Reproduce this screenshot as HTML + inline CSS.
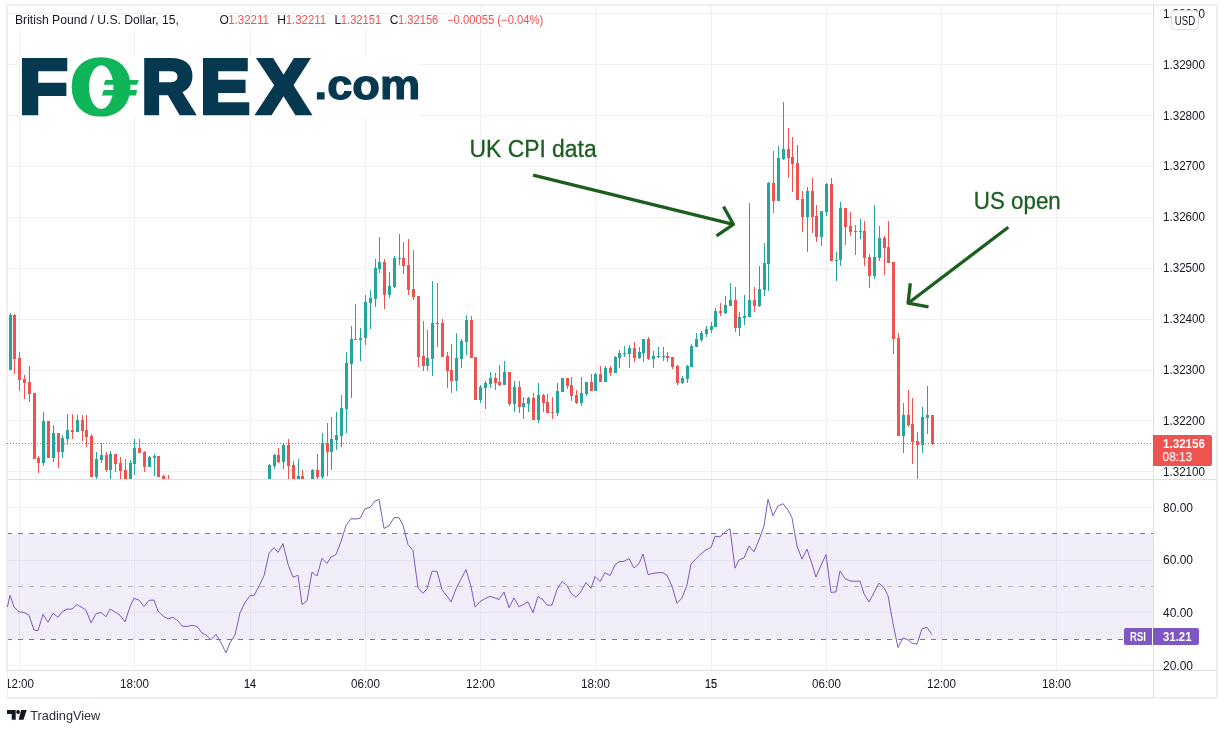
<!DOCTYPE html>
<html lang="en"><head><meta charset="utf-8"><title>GBP/USD 15 - FOREX.com</title>
<style>html,body{margin:0;padding:0;background:#fff;}body{width:1227px;height:733px;overflow:hidden;font-family:"Liberation Sans", sans-serif;}svg{display:block}</style>
</head><body>
<svg width="1227" height="733" viewBox="0 0 1227 733" font-family='"Liberation Sans", sans-serif' shape-rendering="crispEdges">
<rect x="0" y="0" width="1227" height="733" fill="#ffffff"/>
<rect x="8" y="533.7" width="1145" height="106" fill="#f1eef9" shape-rendering="geometricPrecision"/>
<g stroke="#f0f0f2" stroke-width="1">
<line x1="8" x2="1153" y1="13.5" y2="13.5"/>
<line x1="8" x2="1153" y1="64.5" y2="64.5"/>
<line x1="8" x2="1153" y1="115.5" y2="115.5"/>
<line x1="8" x2="1153" y1="166.5" y2="166.5"/>
<line x1="8" x2="1153" y1="217.5" y2="217.5"/>
<line x1="8" x2="1153" y1="268.5" y2="268.5"/>
<line x1="8" x2="1153" y1="319.5" y2="319.5"/>
<line x1="8" x2="1153" y1="370.5" y2="370.5"/>
<line x1="8" x2="1153" y1="420.5" y2="420.5"/>
<line x1="8" x2="1153" y1="471.5" y2="471.5"/>
<line x1="8" x2="1153" y1="507.5" y2="507.5"/>
<line x1="8" x2="1153" y1="560.5" y2="560.5"/>
<line x1="8" x2="1153" y1="612.5" y2="612.5"/>
<line x1="8" x2="1153" y1="665.5" y2="665.5"/>
<line x1="19.5" x2="19.5" y1="6" y2="670"/>
<line x1="134.5" x2="134.5" y1="6" y2="670"/>
<line x1="250.5" x2="250.5" y1="6" y2="670"/>
<line x1="365.5" x2="365.5" y1="6" y2="670"/>
<line x1="480.5" x2="480.5" y1="6" y2="670"/>
<line x1="595.5" x2="595.5" y1="6" y2="670"/>
<line x1="711.5" x2="711.5" y1="6" y2="670"/>
<line x1="826.5" x2="826.5" y1="6" y2="670"/>
<line x1="941.5" x2="941.5" y1="6" y2="670"/>
<line x1="1056.5" x2="1056.5" y1="6" y2="670"/>
</g>
<g stroke="#e4e1f0" stroke-width="1">
<line x1="8" x2="1153" y1="560.5" y2="560.5"/>
<line x1="8" x2="1153" y1="612.5" y2="612.5"/>
<line x1="19.5" x2="19.5" y1="534" y2="639"/>
<line x1="134.5" x2="134.5" y1="534" y2="639"/>
<line x1="250.5" x2="250.5" y1="534" y2="639"/>
<line x1="365.5" x2="365.5" y1="534" y2="639"/>
<line x1="480.5" x2="480.5" y1="534" y2="639"/>
<line x1="595.5" x2="595.5" y1="534" y2="639"/>
<line x1="711.5" x2="711.5" y1="534" y2="639"/>
<line x1="826.5" x2="826.5" y1="534" y2="639"/>
<line x1="941.5" x2="941.5" y1="534" y2="639"/>
<line x1="1056.5" x2="1056.5" y1="534" y2="639"/>
</g>
<line x1="7" x2="1153" y1="533.5" y2="533.5" stroke="#787b86" stroke-width="1" stroke-dasharray="5 6"/>
<line x1="7" x2="1153" y1="586.5" y2="586.5" stroke="#b4b5c0" stroke-width="1" stroke-dasharray="5 6"/>
<line x1="7" x2="1153" y1="639.5" y2="639.5" stroke="#787b86" stroke-width="1" stroke-dasharray="5 6"/>
<g stroke="#edeff4" stroke-width="2" fill="none">
<rect x="7" y="5" width="1210" height="693"/>
</g>
<g stroke="#dedfe3" stroke-width="1" fill="none">
<line x1="1153.5" x2="1153.5" y1="5" y2="698"/>
<line x1="7" x2="1217" y1="670.5" y2="670.5"/>
<line x1="7" x2="1217" y1="479.5" y2="479.5"/>
</g>
<rect x="20" y="56.5" width="399" height="60" fill="#ffffff"/>
<g>
<rect x="10" y="313" width="1" height="57" fill="#26a69a"/>
<rect x="9" y="315" width="3" height="55" fill="#26a69a"/>
<rect x="14" y="314" width="1" height="60" fill="#ef5350"/>
<rect x="13" y="315" width="3" height="44" fill="#ef5350"/>
<rect x="19" y="352" width="1" height="39" fill="#ef5350"/>
<rect x="18" y="358" width="3" height="22" fill="#ef5350"/>
<rect x="24" y="375" width="1" height="24" fill="#ef5350"/>
<rect x="23" y="379" width="3" height="4" fill="#ef5350"/>
<rect x="29" y="366" width="1" height="36" fill="#ef5350"/>
<rect x="28" y="382" width="3" height="12" fill="#ef5350"/>
<rect x="34" y="393" width="1" height="66" fill="#ef5350"/>
<rect x="33" y="393" width="3" height="66" fill="#ef5350"/>
<rect x="38" y="456" width="1" height="17" fill="#ef5350"/>
<rect x="37" y="458" width="3" height="5" fill="#ef5350"/>
<rect x="43" y="412" width="1" height="54" fill="#26a69a"/>
<rect x="42" y="421" width="3" height="42" fill="#26a69a"/>
<rect x="48" y="421" width="1" height="37" fill="#ef5350"/>
<rect x="47" y="421" width="3" height="37" fill="#ef5350"/>
<rect x="53" y="425" width="1" height="37" fill="#26a69a"/>
<rect x="52" y="433" width="3" height="25" fill="#26a69a"/>
<rect x="58" y="433" width="1" height="35" fill="#ef5350"/>
<rect x="57" y="433" width="3" height="19" fill="#ef5350"/>
<rect x="62" y="435" width="1" height="23" fill="#26a69a"/>
<rect x="61" y="438" width="3" height="14" fill="#26a69a"/>
<rect x="67" y="414" width="1" height="31" fill="#26a69a"/>
<rect x="66" y="430" width="3" height="9" fill="#26a69a"/>
<rect x="72" y="414" width="1" height="25" fill="#ef5350"/>
<rect x="71" y="430" width="3" height="2" fill="#ef5350"/>
<rect x="77" y="415" width="1" height="17" fill="#26a69a"/>
<rect x="76" y="420" width="3" height="12" fill="#26a69a"/>
<rect x="82" y="415" width="1" height="26" fill="#ef5350"/>
<rect x="81" y="420" width="3" height="11" fill="#ef5350"/>
<rect x="86" y="415" width="1" height="32" fill="#ef5350"/>
<rect x="85" y="430" width="3" height="7" fill="#ef5350"/>
<rect x="91" y="434" width="1" height="43" fill="#ef5350"/>
<rect x="90" y="436" width="3" height="41" fill="#ef5350"/>
<rect x="96" y="452" width="1" height="27" fill="#26a69a"/>
<rect x="95" y="459" width="3" height="18" fill="#26a69a"/>
<rect x="101" y="443" width="1" height="20" fill="#26a69a"/>
<rect x="100" y="455" width="3" height="5" fill="#26a69a"/>
<rect x="106" y="452" width="1" height="20" fill="#ef5350"/>
<rect x="105" y="455" width="3" height="15" fill="#ef5350"/>
<rect x="110" y="451" width="1" height="28" fill="#26a69a"/>
<rect x="109" y="454" width="3" height="16" fill="#26a69a"/>
<rect x="115" y="454" width="1" height="18" fill="#ef5350"/>
<rect x="114" y="454" width="3" height="10" fill="#ef5350"/>
<rect x="120" y="457" width="1" height="22" fill="#ef5350"/>
<rect x="119" y="463" width="3" height="8" fill="#ef5350"/>
<rect x="125" y="459" width="1" height="20" fill="#ef5350"/>
<rect x="124" y="470" width="3" height="9" fill="#ef5350"/>
<rect x="130" y="460" width="1" height="19" fill="#26a69a"/>
<rect x="129" y="463" width="3" height="16" fill="#26a69a"/>
<rect x="134" y="439" width="1" height="36" fill="#26a69a"/>
<rect x="133" y="448" width="3" height="16" fill="#26a69a"/>
<rect x="139" y="439" width="1" height="14" fill="#ef5350"/>
<rect x="138" y="448" width="3" height="5" fill="#ef5350"/>
<rect x="144" y="451" width="1" height="21" fill="#ef5350"/>
<rect x="143" y="452" width="3" height="15" fill="#ef5350"/>
<rect x="149" y="456" width="1" height="11" fill="#26a69a"/>
<rect x="148" y="457" width="3" height="10" fill="#26a69a"/>
<rect x="154" y="454" width="1" height="22" fill="#26a69a"/>
<rect x="153" y="456" width="3" height="2" fill="#26a69a"/>
<rect x="158" y="456" width="1" height="21" fill="#ef5350"/>
<rect x="157" y="456" width="3" height="21" fill="#ef5350"/>
<rect x="163" y="475" width="1" height="4" fill="#ef5350"/>
<rect x="162" y="476" width="3" height="3" fill="#ef5350"/>
<rect x="168" y="475" width="1" height="4" fill="#ef5350"/>
<rect x="269" y="464" width="1" height="15" fill="#26a69a"/>
<rect x="268" y="465" width="3" height="14" fill="#26a69a"/>
<rect x="274" y="454" width="1" height="15" fill="#26a69a"/>
<rect x="273" y="455" width="3" height="11" fill="#26a69a"/>
<rect x="278" y="448" width="1" height="15" fill="#ef5350"/>
<rect x="277" y="455" width="3" height="7" fill="#ef5350"/>
<rect x="283" y="444" width="1" height="25" fill="#26a69a"/>
<rect x="282" y="445" width="3" height="17" fill="#26a69a"/>
<rect x="288" y="439" width="1" height="40" fill="#ef5350"/>
<rect x="287" y="445" width="3" height="21" fill="#ef5350"/>
<rect x="293" y="461" width="1" height="18" fill="#ef5350"/>
<rect x="292" y="465" width="3" height="14" fill="#ef5350"/>
<rect x="298" y="459" width="1" height="20" fill="#26a69a"/>
<rect x="297" y="476" width="3" height="3" fill="#26a69a"/>
<rect x="302" y="470" width="1" height="9" fill="#ef5350"/>
<rect x="301" y="476" width="3" height="3" fill="#ef5350"/>
<rect x="312" y="469" width="1" height="10" fill="#26a69a"/>
<rect x="311" y="470" width="3" height="9" fill="#26a69a"/>
<rect x="317" y="454" width="1" height="25" fill="#ef5350"/>
<rect x="316" y="470" width="3" height="7" fill="#ef5350"/>
<rect x="322" y="433" width="1" height="46" fill="#26a69a"/>
<rect x="321" y="443" width="3" height="34" fill="#26a69a"/>
<rect x="327" y="423" width="1" height="53" fill="#ef5350"/>
<rect x="326" y="443" width="3" height="9" fill="#ef5350"/>
<rect x="331" y="417" width="1" height="53" fill="#26a69a"/>
<rect x="330" y="439" width="3" height="13" fill="#26a69a"/>
<rect x="336" y="412" width="1" height="38" fill="#26a69a"/>
<rect x="335" y="435" width="3" height="5" fill="#26a69a"/>
<rect x="341" y="395" width="1" height="52" fill="#26a69a"/>
<rect x="340" y="408" width="3" height="28" fill="#26a69a"/>
<rect x="346" y="352" width="1" height="81" fill="#26a69a"/>
<rect x="345" y="363" width="3" height="46" fill="#26a69a"/>
<rect x="351" y="326" width="1" height="72" fill="#26a69a"/>
<rect x="350" y="339" width="3" height="25" fill="#26a69a"/>
<rect x="355" y="304" width="1" height="36" fill="#ef5350"/>
<rect x="354" y="339" width="3" height="1" fill="#ef5350"/>
<rect x="360" y="328" width="1" height="33" fill="#26a69a"/>
<rect x="359" y="338" width="3" height="2" fill="#26a69a"/>
<rect x="365" y="295" width="1" height="50" fill="#26a69a"/>
<rect x="364" y="302" width="3" height="36" fill="#26a69a"/>
<rect x="370" y="290" width="1" height="39" fill="#26a69a"/>
<rect x="369" y="298" width="3" height="5" fill="#26a69a"/>
<rect x="375" y="259" width="1" height="48" fill="#26a69a"/>
<rect x="374" y="268" width="3" height="31" fill="#26a69a"/>
<rect x="379" y="237" width="1" height="36" fill="#26a69a"/>
<rect x="378" y="262" width="3" height="7" fill="#26a69a"/>
<rect x="384" y="259" width="1" height="50" fill="#ef5350"/>
<rect x="383" y="262" width="3" height="33" fill="#ef5350"/>
<rect x="389" y="272" width="1" height="26" fill="#26a69a"/>
<rect x="388" y="286" width="3" height="9" fill="#26a69a"/>
<rect x="394" y="256" width="1" height="32" fill="#26a69a"/>
<rect x="393" y="258" width="3" height="29" fill="#26a69a"/>
<rect x="399" y="234" width="1" height="31" fill="#26a69a"/>
<rect x="398" y="258" width="3" height="1" fill="#26a69a"/>
<rect x="403" y="242" width="1" height="32" fill="#ef5350"/>
<rect x="402" y="258" width="3" height="8" fill="#ef5350"/>
<rect x="408" y="239" width="1" height="56" fill="#ef5350"/>
<rect x="407" y="265" width="3" height="25" fill="#ef5350"/>
<rect x="413" y="250" width="1" height="50" fill="#ef5350"/>
<rect x="412" y="289" width="3" height="8" fill="#ef5350"/>
<rect x="418" y="296" width="1" height="71" fill="#ef5350"/>
<rect x="417" y="296" width="3" height="61" fill="#ef5350"/>
<rect x="423" y="321" width="1" height="50" fill="#ef5350"/>
<rect x="422" y="356" width="3" height="10" fill="#ef5350"/>
<rect x="427" y="330" width="1" height="41" fill="#26a69a"/>
<rect x="426" y="358" width="3" height="8" fill="#26a69a"/>
<rect x="432" y="281" width="1" height="95" fill="#26a69a"/>
<rect x="431" y="323" width="3" height="36" fill="#26a69a"/>
<rect x="437" y="283" width="1" height="64" fill="#26a69a"/>
<rect x="436" y="323" width="3" height="1" fill="#26a69a"/>
<rect x="442" y="319" width="1" height="38" fill="#ef5350"/>
<rect x="441" y="323" width="3" height="34" fill="#ef5350"/>
<rect x="447" y="352" width="1" height="36" fill="#ef5350"/>
<rect x="446" y="356" width="3" height="15" fill="#ef5350"/>
<rect x="451" y="344" width="1" height="49" fill="#ef5350"/>
<rect x="450" y="370" width="3" height="11" fill="#ef5350"/>
<rect x="456" y="333" width="1" height="58" fill="#26a69a"/>
<rect x="455" y="358" width="3" height="23" fill="#26a69a"/>
<rect x="461" y="339" width="1" height="29" fill="#26a69a"/>
<rect x="460" y="341" width="3" height="18" fill="#26a69a"/>
<rect x="466" y="315" width="1" height="40" fill="#26a69a"/>
<rect x="465" y="320" width="3" height="22" fill="#26a69a"/>
<rect x="471" y="316" width="1" height="42" fill="#ef5350"/>
<rect x="470" y="320" width="3" height="38" fill="#ef5350"/>
<rect x="475" y="357" width="1" height="43" fill="#ef5350"/>
<rect x="474" y="357" width="3" height="43" fill="#ef5350"/>
<rect x="480" y="385" width="1" height="18" fill="#26a69a"/>
<rect x="479" y="387" width="3" height="13" fill="#26a69a"/>
<rect x="485" y="381" width="1" height="28" fill="#26a69a"/>
<rect x="484" y="383" width="3" height="5" fill="#26a69a"/>
<rect x="490" y="372" width="1" height="16" fill="#26a69a"/>
<rect x="489" y="378" width="3" height="6" fill="#26a69a"/>
<rect x="495" y="373" width="1" height="17" fill="#ef5350"/>
<rect x="494" y="378" width="3" height="5" fill="#ef5350"/>
<rect x="499" y="365" width="1" height="21" fill="#ef5350"/>
<rect x="498" y="382" width="3" height="3" fill="#ef5350"/>
<rect x="504" y="361" width="1" height="24" fill="#26a69a"/>
<rect x="503" y="372" width="3" height="13" fill="#26a69a"/>
<rect x="509" y="372" width="1" height="34" fill="#ef5350"/>
<rect x="508" y="372" width="3" height="32" fill="#ef5350"/>
<rect x="514" y="381" width="1" height="31" fill="#26a69a"/>
<rect x="513" y="387" width="3" height="17" fill="#26a69a"/>
<rect x="519" y="381" width="1" height="32" fill="#ef5350"/>
<rect x="518" y="387" width="3" height="20" fill="#ef5350"/>
<rect x="523" y="397" width="1" height="22" fill="#26a69a"/>
<rect x="522" y="403" width="3" height="4" fill="#26a69a"/>
<rect x="528" y="397" width="1" height="15" fill="#26a69a"/>
<rect x="527" y="398" width="3" height="6" fill="#26a69a"/>
<rect x="533" y="393" width="1" height="27" fill="#ef5350"/>
<rect x="532" y="398" width="3" height="22" fill="#ef5350"/>
<rect x="538" y="383" width="1" height="40" fill="#26a69a"/>
<rect x="537" y="395" width="3" height="25" fill="#26a69a"/>
<rect x="543" y="394" width="1" height="18" fill="#ef5350"/>
<rect x="542" y="395" width="3" height="8" fill="#ef5350"/>
<rect x="547" y="394" width="1" height="19" fill="#ef5350"/>
<rect x="546" y="402" width="3" height="11" fill="#ef5350"/>
<rect x="552" y="397" width="1" height="22" fill="#ef5350"/>
<rect x="551" y="412" width="3" height="1" fill="#ef5350"/>
<rect x="557" y="383" width="1" height="33" fill="#26a69a"/>
<rect x="556" y="391" width="3" height="22" fill="#26a69a"/>
<rect x="562" y="378" width="1" height="14" fill="#26a69a"/>
<rect x="561" y="378" width="3" height="14" fill="#26a69a"/>
<rect x="567" y="378" width="1" height="11" fill="#ef5350"/>
<rect x="566" y="378" width="3" height="8" fill="#ef5350"/>
<rect x="571" y="377" width="1" height="24" fill="#ef5350"/>
<rect x="570" y="385" width="3" height="11" fill="#ef5350"/>
<rect x="576" y="390" width="1" height="14" fill="#ef5350"/>
<rect x="575" y="395" width="3" height="8" fill="#ef5350"/>
<rect x="581" y="377" width="1" height="29" fill="#26a69a"/>
<rect x="580" y="393" width="3" height="10" fill="#26a69a"/>
<rect x="586" y="382" width="1" height="14" fill="#26a69a"/>
<rect x="585" y="382" width="3" height="12" fill="#26a69a"/>
<rect x="591" y="374" width="1" height="17" fill="#ef5350"/>
<rect x="590" y="382" width="3" height="9" fill="#ef5350"/>
<rect x="595" y="373" width="1" height="18" fill="#26a69a"/>
<rect x="594" y="374" width="3" height="17" fill="#26a69a"/>
<rect x="600" y="366" width="1" height="16" fill="#ef5350"/>
<rect x="599" y="374" width="3" height="8" fill="#ef5350"/>
<rect x="605" y="366" width="1" height="16" fill="#26a69a"/>
<rect x="604" y="368" width="3" height="14" fill="#26a69a"/>
<rect x="610" y="366" width="1" height="10" fill="#ef5350"/>
<rect x="609" y="368" width="3" height="5" fill="#ef5350"/>
<rect x="615" y="356" width="1" height="17" fill="#26a69a"/>
<rect x="614" y="357" width="3" height="16" fill="#26a69a"/>
<rect x="619" y="350" width="1" height="18" fill="#26a69a"/>
<rect x="618" y="353" width="3" height="5" fill="#26a69a"/>
<rect x="624" y="346" width="1" height="11" fill="#26a69a"/>
<rect x="623" y="353" width="3" height="1" fill="#26a69a"/>
<rect x="629" y="345" width="1" height="23" fill="#26a69a"/>
<rect x="628" y="348" width="3" height="6" fill="#26a69a"/>
<rect x="634" y="342" width="1" height="20" fill="#ef5350"/>
<rect x="633" y="348" width="3" height="10" fill="#ef5350"/>
<rect x="639" y="347" width="1" height="12" fill="#26a69a"/>
<rect x="638" y="352" width="3" height="6" fill="#26a69a"/>
<rect x="643" y="339" width="1" height="23" fill="#26a69a"/>
<rect x="642" y="339" width="3" height="14" fill="#26a69a"/>
<rect x="648" y="337" width="1" height="23" fill="#ef5350"/>
<rect x="647" y="339" width="3" height="20" fill="#ef5350"/>
<rect x="653" y="351" width="1" height="17" fill="#26a69a"/>
<rect x="652" y="356" width="3" height="3" fill="#26a69a"/>
<rect x="658" y="347" width="1" height="11" fill="#26a69a"/>
<rect x="657" y="356" width="3" height="1" fill="#26a69a"/>
<rect x="663" y="347" width="1" height="14" fill="#26a69a"/>
<rect x="662" y="356" width="3" height="1" fill="#26a69a"/>
<rect x="667" y="352" width="1" height="10" fill="#ef5350"/>
<rect x="666" y="356" width="3" height="2" fill="#ef5350"/>
<rect x="672" y="357" width="1" height="12" fill="#ef5350"/>
<rect x="671" y="357" width="3" height="10" fill="#ef5350"/>
<rect x="677" y="365" width="1" height="20" fill="#ef5350"/>
<rect x="676" y="366" width="3" height="17" fill="#ef5350"/>
<rect x="682" y="376" width="1" height="8" fill="#26a69a"/>
<rect x="681" y="378" width="3" height="5" fill="#26a69a"/>
<rect x="687" y="365" width="1" height="18" fill="#26a69a"/>
<rect x="686" y="366" width="3" height="13" fill="#26a69a"/>
<rect x="691" y="344" width="1" height="23" fill="#26a69a"/>
<rect x="690" y="346" width="3" height="21" fill="#26a69a"/>
<rect x="696" y="333" width="1" height="14" fill="#26a69a"/>
<rect x="695" y="339" width="3" height="8" fill="#26a69a"/>
<rect x="701" y="331" width="1" height="11" fill="#26a69a"/>
<rect x="700" y="333" width="3" height="7" fill="#26a69a"/>
<rect x="706" y="326" width="1" height="11" fill="#26a69a"/>
<rect x="705" y="329" width="3" height="5" fill="#26a69a"/>
<rect x="711" y="322" width="1" height="11" fill="#26a69a"/>
<rect x="710" y="326" width="3" height="4" fill="#26a69a"/>
<rect x="715" y="308" width="1" height="19" fill="#26a69a"/>
<rect x="714" y="311" width="3" height="16" fill="#26a69a"/>
<rect x="720" y="303" width="1" height="13" fill="#ef5350"/>
<rect x="719" y="311" width="3" height="2" fill="#ef5350"/>
<rect x="725" y="296" width="1" height="18" fill="#26a69a"/>
<rect x="724" y="305" width="3" height="8" fill="#26a69a"/>
<rect x="730" y="283" width="1" height="23" fill="#26a69a"/>
<rect x="729" y="300" width="3" height="6" fill="#26a69a"/>
<rect x="735" y="287" width="1" height="45" fill="#ef5350"/>
<rect x="734" y="300" width="3" height="28" fill="#ef5350"/>
<rect x="739" y="312" width="1" height="24" fill="#26a69a"/>
<rect x="738" y="317" width="3" height="11" fill="#26a69a"/>
<rect x="744" y="295" width="1" height="30" fill="#26a69a"/>
<rect x="743" y="316" width="3" height="2" fill="#26a69a"/>
<rect x="749" y="203" width="1" height="114" fill="#26a69a"/>
<rect x="748" y="300" width="3" height="17" fill="#26a69a"/>
<rect x="754" y="287" width="1" height="25" fill="#ef5350"/>
<rect x="753" y="300" width="3" height="6" fill="#ef5350"/>
<rect x="759" y="266" width="1" height="41" fill="#26a69a"/>
<rect x="758" y="289" width="3" height="17" fill="#26a69a"/>
<rect x="764" y="243" width="1" height="53" fill="#26a69a"/>
<rect x="763" y="263" width="3" height="27" fill="#26a69a"/>
<rect x="768" y="182" width="1" height="109" fill="#26a69a"/>
<rect x="767" y="183" width="3" height="81" fill="#26a69a"/>
<rect x="773" y="151" width="1" height="62" fill="#ef5350"/>
<rect x="772" y="183" width="3" height="18" fill="#ef5350"/>
<rect x="778" y="146" width="1" height="55" fill="#26a69a"/>
<rect x="777" y="158" width="3" height="43" fill="#26a69a"/>
<rect x="783" y="102" width="1" height="58" fill="#26a69a"/>
<rect x="782" y="149" width="3" height="10" fill="#26a69a"/>
<rect x="788" y="128" width="1" height="50" fill="#ef5350"/>
<rect x="787" y="149" width="3" height="9" fill="#ef5350"/>
<rect x="792" y="137" width="1" height="55" fill="#ef5350"/>
<rect x="791" y="157" width="3" height="7" fill="#ef5350"/>
<rect x="797" y="145" width="1" height="55" fill="#ef5350"/>
<rect x="796" y="163" width="3" height="37" fill="#ef5350"/>
<rect x="802" y="191" width="1" height="41" fill="#ef5350"/>
<rect x="801" y="199" width="3" height="18" fill="#ef5350"/>
<rect x="807" y="187" width="1" height="65" fill="#26a69a"/>
<rect x="806" y="191" width="3" height="26" fill="#26a69a"/>
<rect x="812" y="178" width="1" height="55" fill="#ef5350"/>
<rect x="811" y="191" width="3" height="26" fill="#ef5350"/>
<rect x="816" y="205" width="1" height="37" fill="#ef5350"/>
<rect x="815" y="216" width="3" height="21" fill="#ef5350"/>
<rect x="821" y="211" width="1" height="35" fill="#26a69a"/>
<rect x="820" y="211" width="3" height="26" fill="#26a69a"/>
<rect x="826" y="183" width="1" height="33" fill="#26a69a"/>
<rect x="825" y="184" width="3" height="28" fill="#26a69a"/>
<rect x="831" y="178" width="1" height="83" fill="#ef5350"/>
<rect x="830" y="184" width="3" height="77" fill="#ef5350"/>
<rect x="836" y="252" width="1" height="29" fill="#26a69a"/>
<rect x="835" y="260" width="3" height="1" fill="#26a69a"/>
<rect x="840" y="202" width="1" height="64" fill="#26a69a"/>
<rect x="839" y="208" width="3" height="52" fill="#26a69a"/>
<rect x="845" y="208" width="1" height="37" fill="#ef5350"/>
<rect x="844" y="208" width="3" height="19" fill="#ef5350"/>
<rect x="850" y="212" width="1" height="24" fill="#ef5350"/>
<rect x="849" y="226" width="3" height="6" fill="#ef5350"/>
<rect x="855" y="225" width="1" height="30" fill="#ef5350"/>
<rect x="854" y="231" width="3" height="1" fill="#ef5350"/>
<rect x="860" y="219" width="1" height="20" fill="#26a69a"/>
<rect x="859" y="231" width="3" height="1" fill="#26a69a"/>
<rect x="864" y="221" width="1" height="45" fill="#ef5350"/>
<rect x="863" y="231" width="3" height="27" fill="#ef5350"/>
<rect x="869" y="254" width="1" height="34" fill="#ef5350"/>
<rect x="868" y="257" width="3" height="19" fill="#ef5350"/>
<rect x="874" y="205" width="1" height="74" fill="#26a69a"/>
<rect x="873" y="257" width="3" height="19" fill="#26a69a"/>
<rect x="879" y="226" width="1" height="35" fill="#26a69a"/>
<rect x="878" y="238" width="3" height="20" fill="#26a69a"/>
<rect x="884" y="236" width="1" height="39" fill="#ef5350"/>
<rect x="883" y="238" width="3" height="10" fill="#ef5350"/>
<rect x="888" y="221" width="1" height="42" fill="#ef5350"/>
<rect x="887" y="247" width="3" height="16" fill="#ef5350"/>
<rect x="893" y="262" width="1" height="92" fill="#ef5350"/>
<rect x="892" y="262" width="3" height="77" fill="#ef5350"/>
<rect x="898" y="333" width="1" height="103" fill="#ef5350"/>
<rect x="897" y="338" width="3" height="98" fill="#ef5350"/>
<rect x="903" y="403" width="1" height="50" fill="#26a69a"/>
<rect x="902" y="415" width="3" height="21" fill="#26a69a"/>
<rect x="908" y="390" width="1" height="37" fill="#ef5350"/>
<rect x="907" y="415" width="3" height="10" fill="#ef5350"/>
<rect x="912" y="398" width="1" height="66" fill="#ef5350"/>
<rect x="911" y="424" width="3" height="18" fill="#ef5350"/>
<rect x="917" y="432" width="1" height="47" fill="#ef5350"/>
<rect x="916" y="441" width="3" height="4" fill="#ef5350"/>
<rect x="922" y="407" width="1" height="46" fill="#26a69a"/>
<rect x="921" y="417" width="3" height="28" fill="#26a69a"/>
<rect x="927" y="386" width="1" height="48" fill="#26a69a"/>
<rect x="926" y="415" width="3" height="3" fill="#26a69a"/>
<rect x="932" y="415" width="1" height="30" fill="#ef5350"/>
<rect x="931" y="415" width="3" height="29" fill="#ef5350"/>
</g>
<line x1="7" x2="1153" y1="443.5" y2="443.5" stroke="#ef5350" stroke-width="1" stroke-dasharray="1 2"/>
<polyline points="7.4,607 10.0,595.2 14.0,607 19.0,611.7 24.0,612.4 29.0,615.3 34.0,630 38.0,630.7 43.0,614.3 48.0,622.2 53.0,613.2 58.0,617.3 62.0,612 67.0,609.1 72.0,609.1 77.0,604.5 82.0,607.5 86.0,610.1 91.0,622.8 96.0,613.7 101.0,612.4 106.0,616.8 110.0,609.1 115.0,612 120.0,615.2 125.0,621.9 130.0,606.6 134.0,598.3 139.0,600.1 144.0,606.5 149.0,600.3 154.0,600.1 158.0,611.1 163.0,616 168.0,618.9 173.0,617.3 178.0,620.9 182.0,626.1 187.0,626.5 192.0,625.3 197.0,626.3 202.0,633 206.0,634.9 211.0,639.8 216.0,634.3 221.0,642.8 226.0,652.9 230.0,642.8 235.0,634.9 240.0,612.8 245.0,602.5 250.0,595.6 254.0,595.6 259.0,586.2 264.0,575.7 269.0,553.4 274.0,547.5 278.0,552.4 283.0,543.6 288.0,564.2 293.0,577.3 298.0,575.2 302.0,604.6 307.0,600.6 312.0,572.1 317.0,576 322.0,558.3 327.0,563.4 331.0,557.1 336.0,554.6 341.0,541.5 346.0,525.6 351.0,518.7 355.0,519 360.0,518.4 365.0,508.9 370.0,507.3 375.0,501 379.0,499.4 384.0,528.4 389.0,525.9 394.0,517.7 399.0,517.7 403.0,525.1 408.0,544.7 413.0,550.5 418.0,588.1 423.0,593.3 427.0,588.9 432.0,571.3 437.0,571.3 442.0,589.7 447.0,596.3 451.0,601.9 456.0,588.9 461.0,579.1 466.0,569.5 471.0,586.5 475.0,607 480.0,601.5 485.0,598.7 490.0,596.3 495.0,598 499.0,599.5 504.0,592 509.0,607.7 514.0,597.9 519.0,606.7 523.0,604.8 528.0,601.8 533.0,612.6 538.0,596.4 543.0,599.9 547.0,605.1 552.0,605.1 557.0,589.6 562.0,581.5 567.0,585.5 571.0,593.2 576.0,597.3 581.0,591.5 586.0,582.5 591.0,588.2 595.0,576.5 600.0,581.5 605.0,572.7 610.0,575.6 615.0,565 619.0,561.7 624.0,561.4 629.0,558.5 634.0,568 639.0,563.7 643.0,554 648.0,574.5 653.0,573.4 658.0,572.7 663.0,572.7 667.0,575.3 672.0,586.2 677.0,603.3 682.0,598 687.0,584.9 691.0,564 696.0,558.7 701.0,553.8 706.0,549.9 711.0,547.6 715.0,536.3 720.0,536.8 725.0,532 730.0,528.8 735.0,568.2 739.0,559.9 744.0,557.9 749.0,546 754.0,551.9 759.0,539.9 764.0,526 768.0,499.3 773.0,515.7 778.0,505.9 783.0,503.7 788.0,510.1 792.0,517.8 797.0,546 802.0,559.1 807.0,549.2 812.0,564 816.0,577.1 821.0,565.3 826.0,554.6 831.0,592.4 836.0,591.9 840.0,571 845.0,578.5 850.0,581 855.0,581.3 860.0,581 864.0,593.8 869.0,602 874.0,592.5 879.0,583.1 884.0,587.6 888.0,595.7 893.0,623.6 898.0,647.6 903.0,638 908.0,639.9 912.0,643.2 917.0,644.2 922.0,628.8 927.0,627.3 932.0,634.7" fill="none" stroke="#7e57c2" stroke-width="1" stroke-linejoin="round" shape-rendering="geometricPrecision"/>
<g fill="#131722" font-size="12" shape-rendering="geometricPrecision">
<text x="1163" y="17.80" textLength="42" lengthAdjust="spacingAndGlyphs">1.33000</text>
<text x="1163" y="68.90" textLength="42" lengthAdjust="spacingAndGlyphs">1.32900</text>
<text x="1163" y="119.90" textLength="42" lengthAdjust="spacingAndGlyphs">1.32800</text>
<text x="1163" y="170.20" textLength="42" lengthAdjust="spacingAndGlyphs">1.32700</text>
<text x="1163" y="221.20" textLength="42" lengthAdjust="spacingAndGlyphs">1.32600</text>
<text x="1163" y="272.05" textLength="42" lengthAdjust="spacingAndGlyphs">1.32500</text>
<text x="1163" y="322.94" textLength="42" lengthAdjust="spacingAndGlyphs">1.32400</text>
<text x="1163" y="373.83" textLength="42" lengthAdjust="spacingAndGlyphs">1.32300</text>
<text x="1163" y="424.80" textLength="42" lengthAdjust="spacingAndGlyphs">1.32200</text>
<text x="1163" y="475.60" textLength="42" lengthAdjust="spacingAndGlyphs">1.32100</text>
<text x="1163" y="511.8" textLength="30" lengthAdjust="spacingAndGlyphs">80.00</text>
<text x="1163" y="564.4" textLength="30" lengthAdjust="spacingAndGlyphs">60.00</text>
<text x="1163" y="616.9" textLength="30" lengthAdjust="spacingAndGlyphs">40.00</text>
<text x="1163" y="669.7" textLength="30" lengthAdjust="spacingAndGlyphs">20.00</text>
<text x="19.5" y="688" text-anchor="middle" textLength="29" lengthAdjust="spacingAndGlyphs">12:00</text>
<text x="134.5" y="688" text-anchor="middle" textLength="29" lengthAdjust="spacingAndGlyphs">18:00</text>
<text x="250.1" y="688" text-anchor="middle" stroke="#131722" stroke-width="0.2" textLength="12.2" lengthAdjust="spacingAndGlyphs">14</text>
<text x="365.5" y="688" text-anchor="middle" textLength="29" lengthAdjust="spacingAndGlyphs">06:00</text>
<text x="480.5" y="688" text-anchor="middle" textLength="29" lengthAdjust="spacingAndGlyphs">12:00</text>
<text x="595.5" y="688" text-anchor="middle" textLength="29" lengthAdjust="spacingAndGlyphs">18:00</text>
<text x="711.1" y="688" text-anchor="middle" stroke="#131722" stroke-width="0.2" textLength="12.2" lengthAdjust="spacingAndGlyphs">15</text>
<text x="826.5" y="688" text-anchor="middle" textLength="29" lengthAdjust="spacingAndGlyphs">06:00</text>
<text x="941.5" y="688" text-anchor="middle" textLength="29" lengthAdjust="spacingAndGlyphs">12:00</text>
<text x="1056.5" y="688" text-anchor="middle" textLength="29" lengthAdjust="spacingAndGlyphs">18:00</text>
</g>
<rect x="0" y="672" width="7" height="25" fill="#ffffff"/>
<rect x="7" y="671" width="1" height="27" fill="#edeff4"/>
<rect x="1171.5" y="10.5" width="27" height="19" rx="4" fill="#ffffff" stroke="#d9dce4" shape-rendering="geometricPrecision"/>
<text x="1185" y="24.6" font-size="12.2" fill="#131722" text-anchor="middle" textLength="20.4" lengthAdjust="spacingAndGlyphs" shape-rendering="geometricPrecision">USD</text>
<path d="M1153,435 h57 a2,2 0 0 1 2,2 v27 a2,2 0 0 1 -2,2 h-57 z" fill="#ef5350" shape-rendering="geometricPrecision"/>
<text x="1163" y="447.6" font-size="12" font-weight="bold" fill="#ffffff" textLength="42" lengthAdjust="spacingAndGlyphs" shape-rendering="geometricPrecision">1.32156</text>
<text x="1162.6" y="461.3" font-size="12" fill="#ffeceb" stroke="#ffeceb" stroke-width="0.25" textLength="29.6" lengthAdjust="spacingAndGlyphs">08:13</text>
<path d="M1152,628 v17 h-26 a2,2 0 0 1 -2,-2 v-13 a2,2 0 0 1 2,-2 z" fill="#7e57c2" shape-rendering="geometricPrecision"/>
<path d="M1153,628 h44 a2,2 0 0 1 2,2 v13 a2,2 0 0 1 -2,2 h-44 z" fill="#7e57c2" shape-rendering="geometricPrecision"/>
<rect x="1152" y="628" width="1.2" height="17" fill="#ffffff"/>
<text x="1138" y="641" font-size="12" font-weight="bold" fill="#ffffff" text-anchor="middle" textLength="16" lengthAdjust="spacingAndGlyphs">RSI</text>
<text x="1163" y="641" font-size="12" font-weight="bold" fill="#ffffff" textLength="28.5" lengthAdjust="spacingAndGlyphs">31.21</text>
<rect x="8" y="14" width="540" height="14" fill="#ffffff" opacity="0.85"/>
<rect x="179" y="13" width="37" height="1" fill="#ffffff"/>
<g font-size="12" shape-rendering="geometricPrecision">
<text x="15" y="24" fill="#131722" textLength="164" lengthAdjust="spacingAndGlyphs">British Pound / U.S. Dollar, 15,</text>
<text x="219.4" y="24" fill="#131722">O</text><text x="228.2" y="24" fill="#ef5350" textLength="40.8" lengthAdjust="spacingAndGlyphs">1.32211</text>
<text x="277.2" y="24" fill="#131722">H</text><text x="285.7" y="24" fill="#ef5350" textLength="40.5" lengthAdjust="spacingAndGlyphs">1.32211</text>
<text x="334.4" y="24" fill="#131722">L</text><text x="340.8" y="24" fill="#ef5350" textLength="40.5" lengthAdjust="spacingAndGlyphs">1.32151</text>
<text x="389.8" y="24" fill="#131722">C</text><text x="398" y="24" fill="#ef5350" textLength="40.3" lengthAdjust="spacingAndGlyphs">1.32156</text>
<text x="447" y="24" fill="#ef5350" textLength="96.3" lengthAdjust="spacingAndGlyphs">−0.00055 (−0.04%)</text>
</g>
<g font-weight="bold" shape-rendering="geometricPrecision" text-rendering="geometricPrecision" stroke-linejoin="miter">
<text transform="matrix(0.7989 0 0 0.7660 19.04 113.30)" font-size="100" stroke-width="6" fill="#06384f" stroke="#06384f">F</text><text transform="matrix(0.7030 0 0 0.6981 73.84 110.62)" font-size="100" stroke-width="14" fill="#0fb659" stroke="#0fb659">O</text><text transform="matrix(0.7305 0 0 0.7660 141.50 113.30)" font-size="100" stroke-width="6" fill="#06384f" stroke="#06384f">R</text><text transform="matrix(0.7456 0 0 0.7660 200.34 113.30)" font-size="100" stroke-width="6" fill="#06384f" stroke="#06384f">E</text><text transform="matrix(0.7645 0 0 0.7660 257.91 113.30)" font-size="100" stroke-width="6" fill="#06384f" stroke="#06384f">X</text><text transform="matrix(0.4521 0 0 0.4145 314.60 99.36)" font-size="100" stroke-width="3" fill="#06384f" stroke="#06384f">.com</text>
<ellipse cx="101.2" cy="87.1" rx="12.2" ry="21.8" fill="#ffffff"/>
</g>
<g fill="#0fb659" shape-rendering="geometricPrecision"><polygon points="105.5,80 138.7,80 137.2,84.8 103.6,84.8"/><polygon points="103.6,90.1 137.2,90.1 135.8,95.5 102,95.5"/></g>
<g shape-rendering="geometricPrecision" fill="#1b5e20" font-size="23">
<text x="469.6" y="157" textLength="127" lengthAdjust="spacingAndGlyphs" stroke="#1b5e20" stroke-width="0.3">UK CPI data</text>
<text x="973.8" y="208.7" textLength="87" lengthAdjust="spacingAndGlyphs" stroke="#1b5e20" stroke-width="0.3">US open</text>
<g stroke="#1b5e20" stroke-width="3.3" fill="none" stroke-linecap="butt" stroke-linejoin="round">
<path d="M533.1,175.1 L733.4,224.3"/>
<path d="M723.5,206.6 L733.4,224.3 L716.5,235.8"/>
<path d="M1008.3,227.3 L908.1,303.2"/>
<path d="M910.3,283.2 L908.1,303.2 L928.5,306.8"/>
</g></g>
<g shape-rendering="geometricPrecision">
<g fill="#131722"><path d="M7,710 h8.7 v9.8 h-4 v-5.8 h-4.7 z"/><circle cx="18.1" cy="712" r="1.95"/><path d="M21.2,710 h5.5 l-3.2,9.8 h-4.9 z"/></g>
<text x="30.3" y="720" font-size="13.5" fill="#2a2e39" textLength="70" lengthAdjust="spacingAndGlyphs">TradingView</text>
</g>
</svg>
</body></html>
